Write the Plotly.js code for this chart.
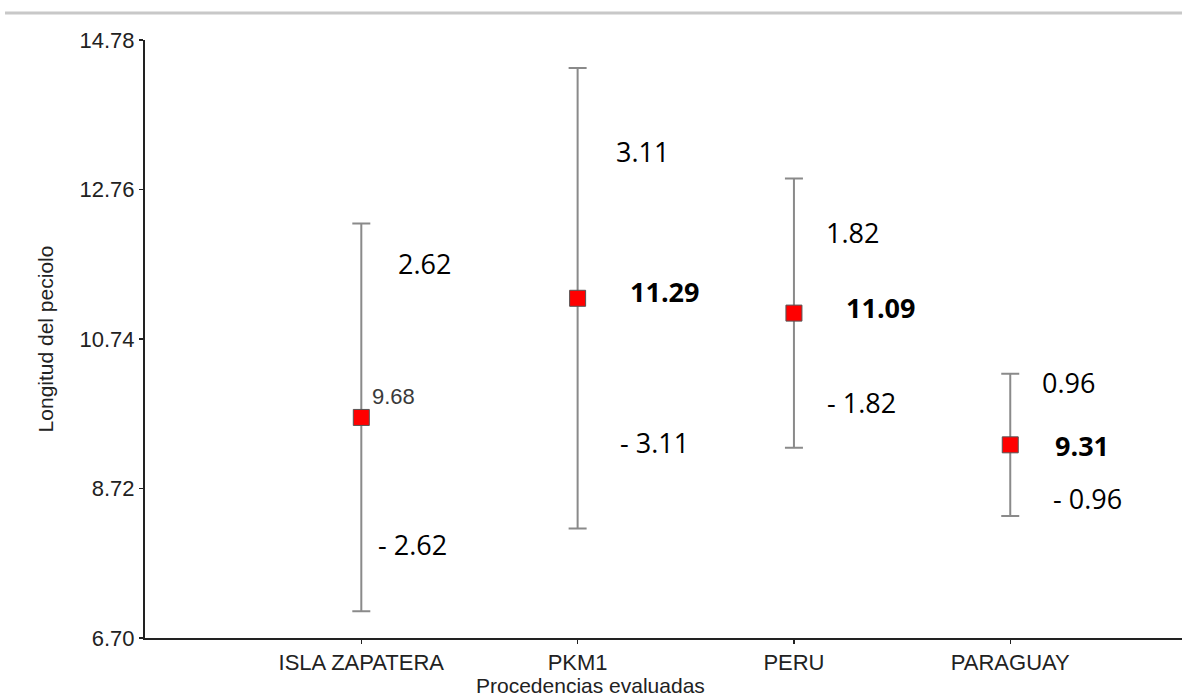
<!DOCTYPE html>
<html>
<head>
<meta charset="utf-8">
<script src="https://cdn.plot.ly/plotly-3.0.1.min.js"></script>
<style>html,body{margin:0;padding:0;background:#fff;}#chart{width:1182px;height:696px;}</style>
</head>
<body>
<div id="chart"></div>
<script>
// Data
const categories = ["ISLA ZAPATERA", "PKM1", "PERU", "PARAGUAY"];
const means = [9.68, 11.29, 11.09, 9.31];
const errors = [2.62, 3.11, 1.82, 0.96];
const yTickVals = [6.70, 8.72, 10.74, 12.76, 14.78];

const xPos = categories.map((c, i) => i + 1);

const trace = {
  type: 'scatter',
  mode: 'markers',
  x: xPos,
  y: means,
  error_y: {type: 'data', array: errors, visible: true, color: '#8a8a8a', thickness: 2, width: 9},
  marker: {symbol: 'square', size: 16, color: '#ff0000', line: {color: '#555555', width: 1}},
  hoverinfo: 'x+y',
  showlegend: false
};

// label offsets (pixels) relative to each point: [upper err, mean, lower err]
const offUp = [[63, 154], [65, 147], [59, 81], [58, 62]];
const offMean = [[11, 21], [87, 7], [87, 6], [72, -1]];
const offLow = [[51, -127], [77, -144], [68, -89], [77, -54]];

const calibriLike = {family: 'Open Sans, Lato, sans-serif', size: 27, color: '#000'};
const axisFont = 'Liberation Sans, Arial, sans-serif';
const annotations = [];
categories.forEach((c, i) => {
  annotations.push({x: xPos[i], y: means[i], xref: 'x', yref: 'y', text: errors[i].toFixed(2),
    showarrow: false, xshift: offUp[i][0], yshift: offUp[i][1], font: calibriLike});
  annotations.push({x: xPos[i], y: means[i], xref: 'x', yref: 'y', text: '- ' + errors[i].toFixed(2),
    showarrow: false, xshift: offLow[i][0], yshift: offLow[i][1], font: calibriLike});
  if (i === 0) {
    annotations.push({x: xPos[i], y: means[i], xref: 'x', yref: 'y', text: means[i].toFixed(2),
      showarrow: false, xanchor: 'left', xshift: offMean[i][0] - 2, yshift: offMean[i][1],
      font: {family: axisFont, size: 22, color: '#3a3a3a'}});
  } else {
    annotations.push({x: xPos[i], y: means[i], xref: 'x', yref: 'y', text: '<b>' + means[i].toFixed(2) + '</b>',
      showarrow: false, xshift: offMean[i][0], yshift: offMean[i][1],
      font: {family: 'Open Sans, Lato, sans-serif', size: 27, color: '#000'}});
  }
});
// x axis title, centred where the reference places it
annotations.push({xref: 'paper', yref: 'paper', x: (590 - 145) / 1037, y: 0, yshift: -47,
  xanchor: 'center', yanchor: 'middle', showarrow: false, text: 'Procedencias evaluadas',
  font: {family: axisFont, size: 21, color: '#222'}});

const layout = {
  width: 1182, height: 696,
  margin: {l: 145, r: 0, t: 40, b: 58, pad: 0},
  paper_bgcolor: '#ffffff', plot_bgcolor: '#ffffff',
  font: {family: axisFont, color: '#222'},
  xaxis: {
    range: [0, 4.794], tickvals: xPos, ticktext: categories,
    showgrid: false, zeroline: false, showline: true, linecolor: '#222', linewidth: 2,
    ticks: 'outside', ticklen: 4, tickwidth: 1.5, tickcolor: '#222',
    tickfont: {family: axisFont, size: 22, color: '#222'},
    fixedrange: true
  },
  yaxis: {
    range: [6.70, 14.78], tickvals: yTickVals, ticktext: yTickVals.map(v => v.toFixed(2)),
    showgrid: false, zeroline: false, showline: true, linecolor: '#222', linewidth: 2,
    ticks: 'outside', ticklen: 4, tickwidth: 1.5, tickcolor: '#222',
    tickfont: {family: axisFont, size: 22, color: '#222'},
    title: {text: 'Longitud del peciolo', standoff: 20, font: {family: axisFont, size: 21, color: '#222'}},
    fixedrange: true
  },
  shapes: [{type: 'line', xref: 'paper', yref: 'paper', x0: -0.135, x1: 1, y0: 1.045, y1: 1.045,
    line: {color: '#c8c8c8', width: 3}}],
  annotations: annotations
};

Plotly.newPlot('chart', [trace], layout, {displayModeBar: false, staticPlot: true});
</script>
</body>
</html>
